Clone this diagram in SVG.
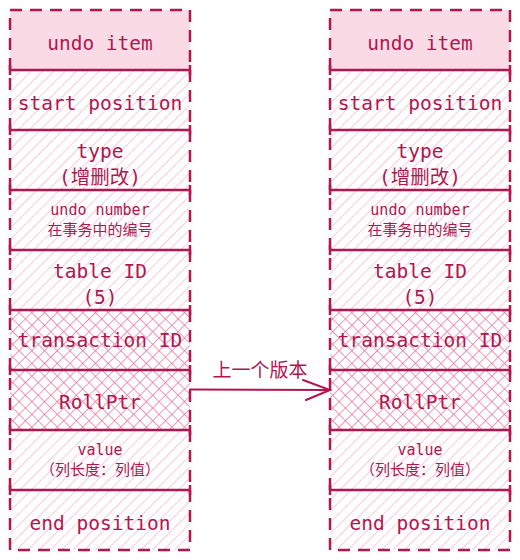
<svg xmlns="http://www.w3.org/2000/svg" width="520" height="560" viewBox="0 0 520 560">
<style>
.t{font-family:"DejaVu Sans Mono","Liberation Mono","Noto Sans CJK SC",monospace;fill:#b0174f;text-anchor:middle}
.b{font-size:19.5px}
.s{font-size:15px}
.border{fill:none;stroke:#b0174f;stroke-width:2.5;stroke-dasharray:12 8}
.div{stroke:#b0174f;stroke-width:2.5;fill:none}
.conn{stroke:#b0174f;stroke-width:2;fill:none;stroke-linecap:round}
</style>
<defs>
<pattern id="hatch" width="8" height="8" patternUnits="userSpaceOnUse" patternTransform="rotate(45)">
<line x1="0" y1="0" x2="0" y2="8" stroke="#f5b5c9" stroke-width="1.4"/>
</pattern>
<pattern id="cross" width="9" height="9" patternUnits="userSpaceOnUse" patternTransform="rotate(45)">
<line x1="0" y1="0" x2="0" y2="9" stroke="#e8759b" stroke-width="1.5"/>
<line x1="0" y1="0" x2="9" y2="0" stroke="#e8759b" stroke-width="1.5"/>
</pattern>
<g id="col">
<rect x="10" y="10" width="180" height="60" fill="#fadbe5"/>
<rect x="10" y="70" width="180" height="240" fill="url(#hatch)"/>
<rect x="10" y="310" width="180" height="120" fill="url(#cross)"/>
<rect x="10" y="430" width="180" height="120" fill="url(#hatch)"/>
<rect class="border" x="10" y="10" width="180" height="540"/>
<path class="div" d="M10 70H190M10 130H190M10 190H190M10 250H190M10 310H190M10 370H190M10 430H190M10 490H190"/>
<path class="div" d="M10 65V75M190 65V75M10 125V135M190 125V135M10 185V195M190 185V195M10 245V255M190 245V255M10 305V315M190 305V315M10 365V375M190 365V375M10 425V435M190 425V435M10 485V495M190 485V495"/>
<text class="t b" x="100" y="50">undo item</text>
<text class="t b" x="100" y="110">start position</text>
<text class="t b" x="100" y="158">type</text>
<text class="t b" x="100" y="184">(增删改)</text>
<text class="t s" x="100" y="215">undo number</text>
<text class="t s" x="100" y="235">在事务中的编号</text>
<text class="t b" x="100" y="278">table ID</text>
<text class="t b" x="100" y="304">(5)</text>
<text class="t b" x="100" y="347">transaction ID</text>
<text class="t b" x="100" y="409">RollPtr</text>
<text class="t s" x="100" y="455">value</text>
<text class="t s" x="100" y="475">（列长度：列值）</text>
<text class="t b" x="100" y="530">end position</text>
</g>
</defs>
<g id="node-left"><use href="#col"/></g>
<g id="node-right"><use href="#col" x="320"/></g>
<g id="connectors">
<path class="conn" d="M190 389.5L330 390"/>
<path class="conn" d="M303 380L330 390L306 400"/>
<text class="t" style="font-size:19px" x="260" y="377">上一个版本</text>
</g>
</svg>
